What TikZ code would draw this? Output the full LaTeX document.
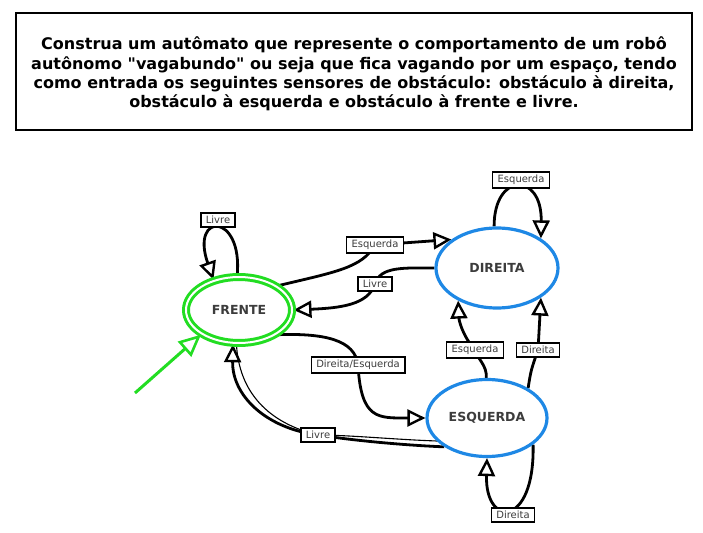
\documentclass[tikz,border=0pt]{standalone}
\usepackage{fontspec}
\setmainfont{DejaVu Sans}[Ligatures=TeXOff]
\usetikzlibrary{shapes.geometric,arrows.meta,backgrounds}
\definecolor{stgreen}{RGB}{34,221,34}
\definecolor{stblue}{RGB}{30,136,229}
\definecolor{txtgray}{RGB}{60,60,60}
\begin{document}
\begin{tikzpicture}[x=1pt,y=-1pt,
  edge/.style={line width=2.8pt, draw=black},
  arr/.style={-{Triangle[open,length=18pt,width=17pt,line width=2.4pt]}},
  thinedge/.style={line width=1.1pt, draw=black},
  lbl/.style={draw=black, line width=1.5pt, fill=white, font=\fontsize{10}{11}\selectfont, text=txtgray, inner xsep=5pt, inner ysep=3pt},
  state/.style={ellipse, draw=stblue, line width=3.2pt, font=\fontsize{12.5}{13}\selectfont\bfseries, text=txtgray, inner sep=0pt},
  startstate/.style={ellipse, draw=stgreen, double=white, line width=3pt, double distance=2pt, font=\fontsize{12.5}{13}\selectfont\bfseries, text=txtgray, inner sep=0pt},
]
\useasboundingbox (0,0) rectangle (703,532);

% title box
\node[draw=black, line width=2.6pt, minimum width=676pt, minimum height=117pt, inner sep=0pt] (box) at (354,71.5) {};
\node[align=center, font=\fontsize{16}{19.2}\selectfont\bfseries] (title) at (354,74)
  {Construa um autômato que represente o comportamento de um robô\\
   autônomo "vagabundo" ou seja que fica vagando por um espaço, tendo\\
   como entrada os seguintes sensores de obstáculo: obstáculo à direita,\\
   obstáculo à esquerda e obstáculo à frente e livre.};

% states
\node[startstate, minimum width=106pt, minimum height=66pt] (F) at (239,310) {FRENTE};
\node[state, minimum width=122pt, minimum height=80pt] (D) at (497,268) {DIREITA};
\node[state, minimum width=120pt, minimum height=77pt] (E) at (487,418) {ESQUERDA};

% labels
\node[lbl] (l1) at (218,220) {Livre};
\node[lbl] (l2) at (375,245) {Esquerda};
\node[lbl] (l3) at (375,284) {Livre};
\node[lbl] (l4) at (521,180) {Esquerda};
\node[lbl] (l5) at (358,365) {Direita/Esquerda};
\node[lbl] (l6) at (318,435) {Livre};
\node[lbl] (l7) at (475,350) {Esquerda};
\node[lbl] (l8) at (538,350) {Direita};
\node[lbl] (l9) at (513,515) {Direita};

\coordinate (init) at (135,393);

\begin{scope}[on background layer]
  % initial arrow
  \draw[line width=3pt, draw=stgreen, -{Triangle[open,length=22pt,width=20pt,line width=2.6pt]}] (init) -- (F.213);
  % FRENTE loop
  \draw[edge,arr] (F.93) .. controls (243,212) and (190,212) .. (F.130);
  % FRENTE -> DIREITA
  \draw[edge] (F.32) .. controls (335,272) and (362,268) .. (l2.center);
  \draw[edge,arr] (l2.center) -- (D.148);
  % DIREITA -> FRENTE
  \draw[edge] (D.west) .. controls (405,268) and (380,266) .. (l3.center);
  \draw[edge,arr] (l3.center) .. controls (368,305) and (340,308) .. (F.east);
  % DIREITA loop
  \draw[edge,arr] (D.94) .. controls (494,172) and (542,172) .. (D.34);
  % FRENTE -> ESQUERDA
  \draw[edge] (F.-33) .. controls (325,333) and (355,340) .. (l5.center);
  \draw[edge,arr] (l5.center) .. controls (361,420) and (378,418) .. (E.west);
  % ESQUERDA -> FRENTE
  \draw[edge] (E.-146) .. controls (400,445) and (350,440) .. (l6.center);
  \draw[thinedge] ([yshift=3.5pt]E.-150) .. controls (400,440) and (350,435) .. (l6.center);
  \draw[edge,arr] (l6.center) .. controls (265,428) and (232,395) .. (F.-100);
  \draw[thinedge] (l6.center) .. controls (268,423) and (239,392) .. ([xshift=3.5pt]F.-100);
  % ESQUERDA -> DIREITA (Esquerda)
  \draw[edge] (E.91) .. controls (487,365) and (478,360) .. (l7.center);
  \draw[edge,arr] (l7.center) .. controls (462,335) and (459,320) .. (D.-140);
  % ESQUERDA -> DIREITA (Direita)
  \draw[edge] (E.36) .. controls (531,370) .. (l8.center);
  \draw[edge,arr] (l8.center) -- (D.-34);
  % ESQUERDA loop
  \draw[edge,arr] (E.-30) .. controls (535,528) and (485,528) .. (E.-90);
\end{scope}
\end{tikzpicture}
\end{document}
